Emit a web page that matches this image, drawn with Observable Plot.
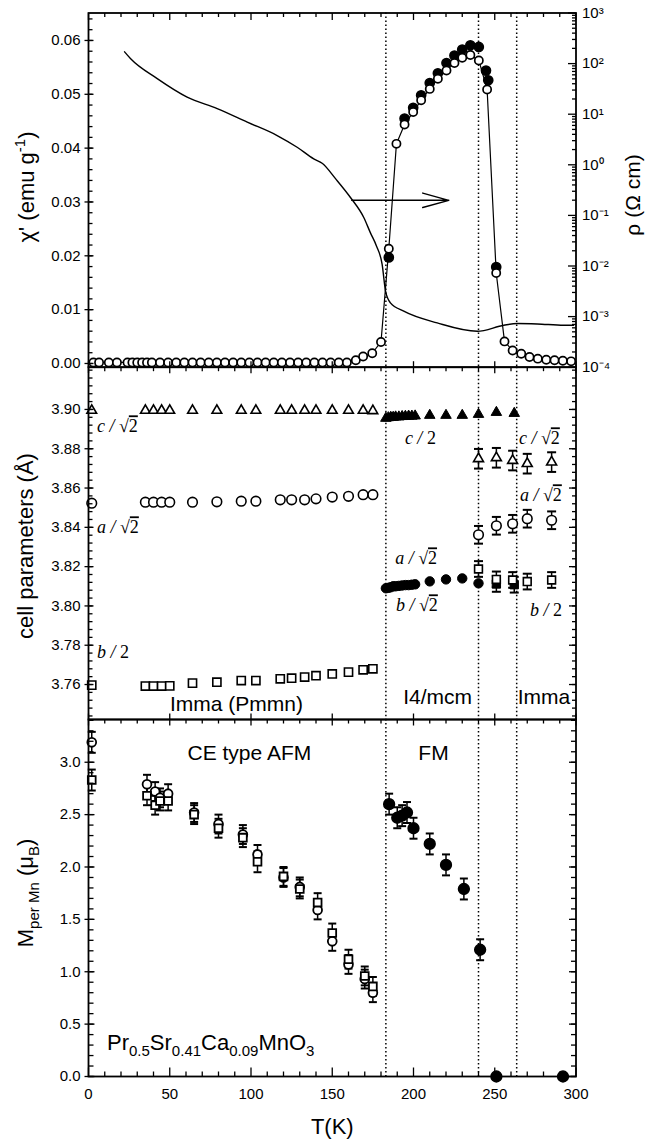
<!DOCTYPE html>
<html>
<head>
<meta charset="utf-8">
<script src="https://cdn.jsdelivr.net/npm/d3@7"></script>
<script src="https://cdn.jsdelivr.net/npm/@observablehq/plot@0.6"></script>
<style>
html,body{margin:0;padding:0;background:#fff;}
#wrap{position:relative;width:647px;height:1146px;overflow:hidden;background:#fff;}
#wrap svg{position:absolute;left:0;top:0;overflow:visible;}
</style>
</head>
<body>
<div id="wrap"></div>
<script>
const SANS = "'Liberation Sans', Arial, Helvetica, sans-serif";
const SERIF = "'Liberation Serif', 'Times New Roman', serif";

// ---------------- shared ----------------
const transitionT = [183, 240, 263.5];
const xMajor = [0, 50, 100, 150, 200, 250, 300];
const xMinor = [10,20,30,40,60,70,80,90,110,120,130,140,160,170,180,190,210,220,230,240,260,270,280,290];

// ---------------- panel 1 : chi' (left, linear) and rho (right, log) ----------------
const chiOpenT = [3, 6.5, 12.5, 17.5, 24, 27, 30, 33, 36, 39,
  44, 49, 54, 59, 64, 69, 74, 79, 84, 89, 94, 99, 104, 109, 114, 119, 124, 129, 134, 139, 144, 149, 154, 159,
  164.5, 169, 174.6, 180,
  184.8, 189.5, 194.5, 199.8, 204.7, 210, 215, 220.3, 225.2, 230, 235, 240.2, 245.3,
  250.9, 256, 261, 266.3, 271.4, 276.5, 281.7, 286.8, 291.9, 297];
const chiOpen = [0.0002, 0.0002, 0.0002, 0.0002, 0.0002, 0.0002, 0.0002, 0.0002, 0.0002, 0.0002,
  0.0002, 0.0002, 0.0002, 0.0002, 0.0002, 0.0002, 0.0002, 0.0002, 0.0002, 0.0002, 0.0002, 0.0002, 0.0002, 0.0002, 0.0002, 0.0002, 0.0002, 0.0002, 0.0002, 0.0002, 0.0002, 0.0002, 0.0002, 0.0002,
  0.0006, 0.0013, 0.0019, 0.0040,
  0.0213, 0.0408, 0.0444, 0.0467, 0.0489, 0.0510, 0.0529, 0.0544, 0.0558, 0.0568, 0.0573, 0.0563, 0.0509,
  0.0168, 0.0041, 0.0024, 0.0018, 0.0012, 0.0009, 0.0007, 0.0006, 0.0005, 0.0004];
const chiFillT = [184.8, 194.5, 199.8, 204.7, 210, 215, 220.3, 225.2, 230, 235, 240.2, 244.6, 246, 250.9];
const chiFill = [0.0197, 0.0455, 0.0475, 0.0498, 0.0521, 0.0539, 0.0558, 0.0572, 0.0583, 0.0591, 0.0588, 0.0544, 0.0526, 0.0179];
const rhoT = [22.2, 25.8, 42.3, 60.7, 79.2, 97.7, 116.1, 128.4, 138.6, 144, 152, 161.2, 169.4, 173.5, 177.2, 180.7, 182.8, 185.8, 194, 214.6, 239.2, 255.6, 263.8, 276.1, 292.5, 298.5];
const rho = [170.6, 126.2, 50.6, 21.8, 12.9, 6.97, 3.79, 2.22, 1.31, 1.06, 0.532, 0.226, 0.0908, 0.0452, 0.0249, 0.0108, 0.00319, 0.00187, 0.00128, 0.00075, 0.000513, 0.000675, 0.000729, 0.000716, 0.000675, 0.000675];
const arrowT = [162, 221.7];
const arrowChi = 0.0303;
const chiMajor = [0, 0.01, 0.02, 0.03, 0.04, 0.05, 0.06];
const rhoMajor = [1e-4, 1e-3, 1e-2, 1e-1, 1, 10, 100, 1000];

// ---------------- panel 2 : cell parameters ----------------
const latT = [2, 35, 40, 45, 50, 64, 79, 94, 103, 118, 125, 133, 140, 150, 160, 169, 175];
const latC = [3.8995, 3.8995, 3.8995, 3.8995, 3.8995, 3.8995, 3.8995, 3.8995, 3.8995, 3.8995, 3.8995, 3.8995, 3.8995, 3.8995, 3.8995, 3.8995, 3.8993];
const latA = [3.8523, 3.8528, 3.8528, 3.8528, 3.8528, 3.8528, 3.853, 3.8533, 3.8533, 3.854, 3.854, 3.854, 3.8545, 3.8554, 3.8558, 3.8566, 3.8566];
const latB = [3.7597, 3.7592, 3.7592, 3.7592, 3.7593, 3.7607, 3.7612, 3.762, 3.762, 3.7629, 3.7632, 3.7638, 3.7645, 3.7654, 3.7663, 3.7675, 3.768];
const tetT = [183, 184.5, 186, 187.5, 189, 191, 193, 195, 197, 199, 201, 210, 220, 230, 240, 251, 262];
const tetC = [3.8955, 3.8958, 3.896, 3.896, 3.8962, 3.8962, 3.8964, 3.8965, 3.8966, 3.8966, 3.8967, 3.897, 3.897, 3.897, 3.8975, 3.8985, 3.898];
const tetAT = [183, 184.5, 186, 187.5, 189, 191, 193, 195, 197, 199, 201, 210, 220, 230, 240];
const tetA = [3.809, 3.8092, 3.8095, 3.81, 3.81, 3.8102, 3.8104, 3.8106, 3.8106, 3.8108, 3.811, 3.8125, 3.8135, 3.814, 3.8115];
const tetBT = [251, 262];
const tetB = [3.8112, 3.8108];
const tetBErr = [0.004, 0.004];
const ortT = [240, 251, 261, 270, 285];
const ortC = [3.8749, 3.8754, 3.874, 3.8724, 3.8732];
const ortCErr = [0.005, 0.005, 0.005, 0.005, 0.005];
const ortA = [3.8362, 3.8408, 3.8418, 3.8444, 3.8436];
const ortAErr = [0.0045, 0.0045, 0.0045, 0.0045, 0.0045];
const ortB = [3.8188, 3.8135, 3.8132, 3.8124, 3.8132];
const ortBErr = [0.004, 0.004, 0.004, 0.004, 0.004];
const latMajor = [3.76, 3.78, 3.80, 3.82, 3.84, 3.86, 3.88, 3.90];
const lab2Num = ["c", "a", "b", "c", "c", "a", "a", "b", "b"];
const lab2Den = ["√2", "√2", "2", "2", "√2", "√2", "√2", "√2", "2"];
const lab2T = [5.5, 5.5, 5.5, 195, 265.2, 265.8, 189, 189.5, 272];
const lab2V = [3.8913, 3.8399, 3.7763, 3.8852, 3.8852, 3.8562, 3.8241, 3.8002, 3.7977];
const phaseText = ["Imma (Pmmn)", "I4/mcm", "Imma"];
const phaseT = [91, 214.8, 280.3];
const phaseV = [3.7498, 3.7534, 3.7534];

// ---------------- panel 3 : moment ----------------
const afmT = [2, 36, 41, 44, 49, 65, 80, 95, 104, 120, 130, 141, 150, 160, 170, 175];
const afmCirc = [3.19, 2.79, 2.72, 2.66, 2.70, 2.52, 2.41, 2.31, 2.12, 1.90, 1.81, 1.59, 1.29, 1.07, 0.93, 0.80];
const afmCircErr = [0.10, 0.09, 0.09, 0.09, 0.09, 0.09, 0.09, 0.09, 0.09, 0.09, 0.09, 0.09, 0.09, 0.09, 0.09, 0.09];
const afmSq = [2.83, 2.68, 2.59, 2.63, 2.63, 2.50, 2.37, 2.28, 2.05, 1.91, 1.79, 1.66, 1.37, 1.12, 0.96, 0.86];
const afmSqErr = [0.10, 0.09, 0.09, 0.09, 0.09, 0.09, 0.09, 0.09, 0.10, 0.09, 0.09, 0.09, 0.09, 0.09, 0.09, 0.09];
const fmT = [185, 190, 193, 196, 200, 210, 220, 231, 241, 251, 292];
const fmM = [2.60, 2.47, 2.49, 2.52, 2.37, 2.22, 2.02, 1.79, 1.21, 0, 0];
const fmErr = [0.10, 0.10, 0.10, 0.10, 0.10, 0.10, 0.10, 0.10, 0.10, 0, 0];
const mMajor = [0, 0.5, 1.0, 1.5, 2.0, 2.5, 3.0];
const lab3Text = ["CE type AFM", "FM"];
const lab3T = [99, 212.3];
const lab3M = [3.083, 3.083];
const formulaT = 11.7, formulaM = 0.32;

// ---------------- layout ----------------
const W = 647, H = 1146;
const P1 = [12.5, 366.7], P2 = [366.7, 719], P3 = [719, 1076];

const seg = (x1, y1, x2, y2) => ({draw(c) { c.moveTo(x1, y1); c.lineTo(x2, y2); }});
const tickX = (vals, anchor, sym, sw = 1.3) => Plot.dot(vals, {x: d => d, frameAnchor: anchor, symbol: sym, fill: "none", stroke: "black", strokeWidth: sw});
const tickY = (vals, anchor, sym, sw = 1.3) => Plot.dot(vals, {y: d => d, frameAnchor: anchor, symbol: sym, fill: "none", stroke: "black", strokeWidth: sw});
const idx = a => d3.range(a.length);
const dotted = () => Plot.ruleX(transitionT, {stroke: "black", strokeWidth: 1.5, strokeDasharray: "1.5,2.5"});
const frame = () => Plot.frame({stroke: "black", strokeWidth: 1.8});

function errs(T, V, E, cap = 4) {
  const I = idx(T).filter(i => E[i] > 0);
  return [
    Plot.ruleX(I, {x: i => T[i], y1: i => V[i] - E[i], y2: i => V[i] + E[i], stroke: "black", strokeWidth: 1.5}),
    Plot.dot(I, {x: i => T[i], y: i => V[i] + E[i], symbol: seg(-cap, 0, cap, 0), fill: "none", stroke: "black", strokeWidth: 2}),
    Plot.dot(I, {x: i => T[i], y: i => V[i] - E[i], symbol: seg(-cap, 0, cap, 0), fill: "none", stroke: "black", strokeWidth: 2})
  ];
}
function pts(T, V, o) {
  return Plot.dot(idx(T), {x: i => T[i], y: i => V[i], ...o});
}
function panel(p, y, marks, x) {
  return Plot.plot({
    width: W, height: H,
    marginLeft: 88, marginRight: 71.5, marginTop: p[0], marginBottom: H - p[1],
    style: {background: "transparent", fontFamily: SANS, fontSize: "15px", color: "black", overflow: "visible"},
    x: x || {domain: [0, 300], axis: null},
    y, marks
  });
}
function rich(svg, x, y, parts, o = {}) {
  const size = o.size || 22, sub = o.sub || Math.round(size * 0.68);
  const t = d3.select(svg).append("text")
    .attr("transform", `translate(${x},${y})` + (o.rotate ? ` rotate(${o.rotate})` : ""))
    .attr("text-anchor", o.anchor || "middle")
    .attr("font-family", o.family || SANS)
    .attr("font-style", o.style || "normal")
    .attr("font-size", size)
    .attr("fill", "black")
    .attr("dy", "0.35em");
  for (const [s, k] of parts) {
    const ts = t.append("tspan").text(s);
    if (k === "sub") ts.attr("font-size", sub).attr("baseline-shift", -size * 0.28);
    else if (k === "sup") ts.attr("font-size", sub).attr("baseline-shift", size * 0.42);
    else if (k === "ol") ts.style("text-decoration", "overline").attr("font-style", "normal");
    else if (k === "up") ts.attr("font-style", "normal");
    else ts.attr("baseline-shift", 0);
  }
  return t;
}
const supDigits = "⁰¹²³⁴⁵⁶⁷⁸⁹";
const pow10 = d => "10" + String(Math.round(Math.log10(d))).replace("-", "⁻").replace(/\d/g, c => supDigits[+c]);

const wrap = document.getElementById("wrap");

// ---- panel 1, rho (log, right) ----
const rhoMinor = [];
for (let k = -4; k < 3; k++) for (let m = 2; m <= 9; m++) rhoMinor.push(m * Math.pow(10, k));
const sRho = panel(P1, {type: "log", domain: [1e-4, 1e3], axis: "right", ticks: rhoMajor, tickFormat: pow10, tickSize: 0, tickPadding: 6, label: null}, [
  Plot.line(idx(rhoT), {x: i => rhoT[i], y: i => rho[i], stroke: "black", strokeWidth: 1.4, curve: "monotone-x"}),
  tickY(rhoMajor, "right", seg(0, 0, -8, 0)),
  tickY(rhoMinor, "right", seg(0, 0, -4, 0))
]);
wrap.append(sRho);
rich(sRho, 633, 195, [["ρ (Ω cm)", "n"]], {rotate: -90, size: 21});

// ---- panel 1, chi' ----
const chiMinor = d3.range(0, 0.0649, 0.002);
const s1 = panel(P1, {domain: [-0.00069, 0.0651], ticks: chiMajor, tickFormat: d3.format(".2f"), tickSize: 0, tickPadding: 8, label: null}, [
  dotted(),
  Plot.line(idx(chiOpenT), {x: i => chiOpenT[i], y: i => chiOpen[i], stroke: "black", strokeWidth: 1.2}),
  pts(chiFillT, chiFill, {r: 4.6, fill: "black", stroke: "black"}),
  pts(chiOpenT, chiOpen, {r: 4.1, fill: "white", stroke: "black", strokeWidth: 1.7}),
  Plot.arrow([0], {x1: () => arrowT[0], x2: () => arrowT[1], y1: () => arrowChi, y2: () => arrowChi, headAngle: 31, headLength: 27, stroke: "black", strokeWidth: 1.5}),
  tickX(xMajor, "top", seg(0, 0, 0, 7)),
  tickX(xMinor, "top", seg(0, 0, 0, 4)),
  tickX(xMajor, "bottom", seg(0, 0, 0, -6)),
  tickY(chiMajor, "left", seg(-4, 0, 5, 0)),
  tickY(chiMinor, "left", seg(0, 0, 4, 0)),
  frame()
]);
wrap.append(s1);
rich(s1, 26, 187, [["χ' (emu g", "n"], ["-1", "sup"], [")", "n"]], {rotate: -90, size: 22});

// ---- panel 2 ----
const latMinor = d3.range(3.744, 3.9205, 0.004);
const s2 = panel(P2, {domain: [3.7422, 3.9215], ticks: latMajor, tickFormat: d3.format(".2f"), tickSize: 0, tickPadding: 8, label: null}, [
  dotted(),
  ...errs(ortT, ortC, ortCErr, 4.5),
  ...errs(ortT, ortA, ortAErr, 4.5),
  ...errs(ortT, ortB, ortBErr, 4.5),
  ...errs(tetBT, tetB, tetBErr, 4.5),
  pts(latT, latC, {symbol: "triangle", r: 3.6, fill: "white", stroke: "black", strokeWidth: 1.6}),
  pts(latT, latA, {r: 4.8, fill: "white", stroke: "black", strokeWidth: 1.6}),
  pts(latT, latB, {symbol: "square", r: 4.6, fill: "white", stroke: "black", strokeWidth: 1.6}),
  pts(tetT, tetC, {symbol: "triangle", r: 3.9, fill: "black", stroke: "black", strokeWidth: 1}),
  pts(tetAT, tetA, {r: 4.7, fill: "black", stroke: "black", strokeWidth: 1}),
  pts(tetBT, tetB, {symbol: "square", r: 4.7, fill: "black", stroke: "black", strokeWidth: 1}),
  pts(ortT, ortC, {symbol: "triangle", r: 3.7, fill: "white", stroke: "black", strokeWidth: 1.6}),
  pts(ortT, ortA, {r: 4.8, fill: "white", stroke: "black", strokeWidth: 1.6}),
  pts(ortT, ortB, {symbol: "square", r: 4.4, fill: "white", stroke: "black", strokeWidth: 1.6}),
  Plot.text(idx(phaseText), {x: i => phaseT[i], y: i => phaseV[i], text: i => phaseText[i], fontSize: 21, fontFamily: SANS, fill: "black"}),
  tickX(xMajor, "top", seg(0, 0, 0, 6)),
  tickX(xMinor, "top", seg(0, 0, 0, 4)),
  tickX(xMajor, "bottom", seg(0, 0, 0, -6)),
  tickY(latMajor, "left", seg(-4, 0, 5, 0)),
  tickY(latMinor, "left", seg(0, 0, 4, 0)),
  tickY(latMajor, "right", seg(0, 0, -7, 0)),
  tickY(latMinor, "right", seg(0, 0, -4, 0)),
  frame()
]);
wrap.append(s2);
rich(s2, 25, 546, [["cell parameters (Å)", "n"]], {rotate: -90, size: 22});
{
  const sx = s2.scale("x"), sy = s2.scale("y");
  lab2Num.forEach((n, i) => {
    const den = lab2Den[i];
    const parts = [[n + " / ", "n"]];
    if (den.startsWith("√")) parts.push(["√", "up"], ["2", "ol"]);
    else parts.push(["2", "up"]);
    rich(s2, sx.apply(lab2T[i]), sy.apply(lab2V[i]), parts, {anchor: "start", size: 18, family: SERIF, style: "italic"});
  });
}

// ---- panel 3 ----
const mMinor = d3.range(0, 3.41, 0.1);
const s3 = panel(P3, {domain: [0, 3.408], ticks: mMajor, tickFormat: d3.format(".1f"), tickSize: 0, tickPadding: 8, label: null}, [
  dotted(),
  ...errs(afmT, afmCirc, afmCircErr, 4),
  ...errs(afmT, afmSq, afmSqErr, 4),
  ...errs(fmT, fmM, fmErr, 4),
  pts(afmT, afmCirc, {r: 4.4, fill: "white", stroke: "black", strokeWidth: 1.8}),
  pts(afmT, afmSq, {symbol: "square", r: 4.4, fill: "white", stroke: "black", strokeWidth: 1.8}),
  pts(fmT, fmM, {r: 5.4, fill: "black", stroke: "black"}),
  Plot.text(idx(lab3Text), {x: i => lab3T[i], y: i => lab3M[i], text: i => lab3Text[i], fontSize: 21, fontFamily: SANS, fill: "black"}),
  Plot.text(["T(K)"], {frameAnchor: "bottom", text: d => d, dy: 57, fontSize: 22, fontFamily: SANS, fill: "black"}),
  tickX(xMajor, "top", seg(0, 0, 0, 6)),
  tickX(xMinor, "top", seg(0, 0, 0, 4)),
  tickX(xMajor, "bottom", seg(0, 0, 0, -9)),
  tickX(xMinor, "bottom", seg(0, 0, 0, -5)),
  tickY(mMajor, "left", seg(-4, 0, 6, 0)),
  tickY(mMinor, "left", seg(0, 0, 5, 0)),
  tickY(mMajor, "right", seg(0, 0, -7, 0)),
  tickY(mMinor, "right", seg(0, 0, -5, 0)),
  frame()
], {domain: [0, 300], ticks: xMajor, tickSize: 0, tickPadding: 12, label: null});
wrap.append(s3);
rich(s3, 25, 893, [["M", "n"], ["per Mn", "sub"], [" (μ", "n"], ["B", "sub"], [")", "n"]], {rotate: -90, size: 22, sub: 15});
{
  const sx = s3.scale("x"), sy = s3.scale("y");
  rich(s3, sx.apply(formulaT), sy.apply(formulaM),
    [["Pr", "n"], ["0.5", "sub"], ["Sr", "n"], ["0.41", "sub"], ["Ca", "n"], ["0.09", "sub"], ["MnO", "n"], ["3", "sub"]],
    {anchor: "start", size: 22, sub: 15});
}
</script>
</body>
</html>
